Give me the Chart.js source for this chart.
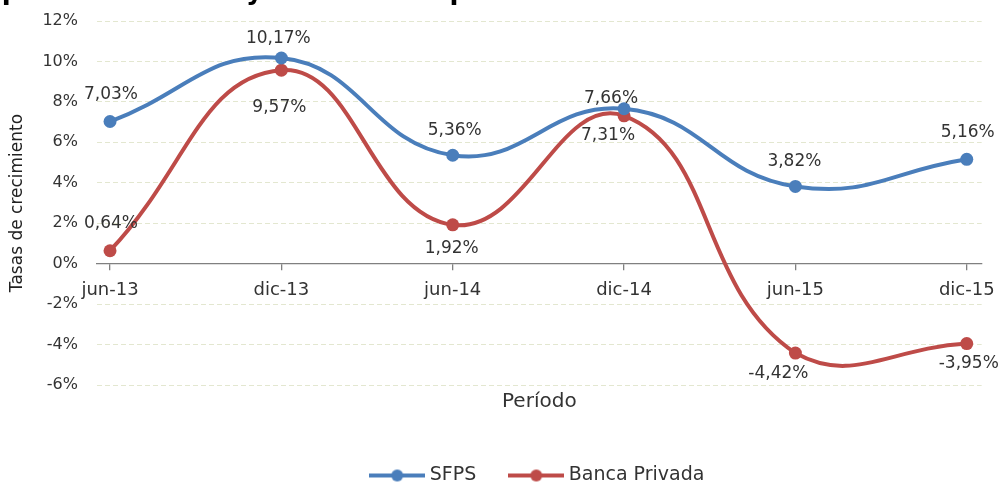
<!DOCTYPE html>
<html>
<head>
<meta charset="utf-8">
<script src="https://cdn.jsdelivr.net/npm/chart.js@4/dist/chart.umd.min.js"></script>
<style>
html, body { margin: 0; padding: 0; background: #fff; }
#caja { width: 1005px; height: 485px; }
</style>
</head>
<body>
<div id="caja"><canvas id="myChart"></canvas></div>
<script>
// datos
const periodos = ["jun-13", "dic-13", "jun-14", "dic-14", "jun-15", "dic-15"];
const sfps = [7.03, 10.17, 5.36, 7.66, 3.82, 5.16];
const bancaPrivada = [0.64, 9.57, 1.92, 7.31, -4.42, -3.95];
const ticksY = [-6, -4, -2, 0, 2, 4, 6, 8, 10, 12];

const AZUL = "#4A7EBB";
const ROJO = "#BE4B48";
const TEXTO = "#333333";
const FUENTE = '"DejaVu Sans", Verdana, sans-serif';

// desplazamiento de cada etiqueta respecto a su punto (dx, dy)
const despEtiquetas = [
  [[1, -27], [-3, -19], [2, -25], [-13, -10], [-1, -25], [1, -27]],
  [[1, -27], [-2, 37], [-1, 24], [-16, 20], [-17, 21], [2, 20]]
];

function formato(v) {
  return v.toFixed(2).replace(".", ",") + "%";
}

// icono de la leyenda: linea con marcador
function iconoLinea(color) {
  const c = document.createElement("canvas");
  c.width = 56; c.height = 14;
  const g = c.getContext("2d");
  g.strokeStyle = color;
  g.lineWidth = 4;
  g.beginPath(); g.moveTo(0, 7); g.lineTo(56, 7); g.stroke();
  g.fillStyle = color;
  g.beginPath(); g.arc(28, 7, 6, 0, Math.PI * 2); g.fill();
  return c;
}
const iconos = [iconoLinea(AZUL), iconoLinea(ROJO)];

const etiquetas = {
  id: "etiquetas",
  afterDatasetsDraw(chart) {
    const ctx = chart.ctx;
    ctx.save();
    ctx.font = "17px " + FUENTE;
    ctx.fillStyle = TEXTO;
    ctx.textAlign = "center";
    ctx.textBaseline = "middle";
    chart.data.datasets.forEach((ds, d) => {
      chart.getDatasetMeta(d).data.forEach((p, i) => {
        const [dx, dy] = despEtiquetas[d][i];
        ctx.fillText(formato(ds.data[i].y), p.x + dx, p.y + dy);
      });
    });
    ctx.restore();
  }
};

// titulo superior, cortado en el borde de la imagen
const tituloCortado = {
  id: "tituloCortado",
  afterDraw(chart) {
    const ctx = chart.ctx;
    ctx.save();
    ctx.font = "bold 26px " + FUENTE;
    ctx.fillStyle = "#000";
    ctx.textBaseline = "alphabetic";
    const pre = "Crecimiento de los depósitos de SFPS ";
    const x0 = 246 - ctx.measureText(pre).width;
    ctx.fillText(pre + "y de la banca privada", x0, -1);
    ctx.restore();
  }
};

new Chart("myChart", {
  type: "line",
  data: {
    datasets: [{
      label: "SFPS",
      data: sfps.map((v, i) => ({ x: i, y: v })),
      borderColor: AZUL,
      backgroundColor: AZUL,
      borderWidth: 4,
      pointRadius: 6.5,
      pointBorderWidth: 0,
      tension: 0.45
    }, {
      label: "Banca Privada",
      data: bancaPrivada.map((v, i) => ({ x: i, y: v })),
      borderColor: ROJO,
      backgroundColor: ROJO,
      borderWidth: 4,
      pointRadius: 6.5,
      pointBorderWidth: 0,
      tension: 0.45
    }]
  },
  options: {
    responsive: true,
    maintainAspectRatio: false,
    animation: false,
    layout: { padding: { top: 21, right: 22, left: 0, bottom: -10 } },
    scales: {
      x: {
        type: "linear",
        axis: "x",
        position: { y: 0 },
        min: -0.076,
        max: 5.087,
        afterBuildTicks: s => { s.ticks = periodos.map((p, i) => ({ value: i })); },
        ticks: {
          callback: v => periodos[v],
          font: { family: FUENTE, size: 18 },
          color: TEXTO,
          padding: 10,
          autoSkip: false,
          maxRotation: 0
        },
        grid: { drawOnChartArea: false, drawTicks: true, tickLength: 6, color: "#808080", lineWidth: 1.3 },
        border: { color: "#808080", width: 1.3 }
      },
      y: {
        min: -6,
        max: 12,
        afterBuildTicks: s => { s.ticks = ticksY.map(v => ({ value: v })); },
        afterFit: s => { s.width = 97; },
        ticks: {
          callback: v => v + "%",
          font: { family: FUENTE, size: 16 },
          color: TEXTO,
          padding: 3
        },
        grid: { color: "#e3e7d0", lineWidth: 1, drawTicks: true, tickLength: 16, tickColor: "rgba(0,0,0,0)" },
        border: { display: false, dash: [5, 3] },
        title: {
          display: true,
          text: "Tasas de crecimiento",
          font: { family: FUENTE, size: 17 },
          color: "#222",
          padding: { top: 7, bottom: 0 }
        }
      }
    },
    plugins: {
      title: {
        display: true,
        text: "Período",
        position: "bottom",
        weight: 500,
        fullSize: false,
        font: { family: FUENTE, size: 20, weight: "normal" },
        color: TEXTO,
        padding: { top: 5, bottom: 15 }
      },
      legend: {
        position: "bottom",
        weight: 1000,
        fullSize: false,
        labels: {
          usePointStyle: true,
          pointStyleWidth: 46,
          padding: 37,
          font: { family: FUENTE, size: 19 },
          color: TEXTO,
          generateLabels: chart => chart.data.datasets.map((ds, i) => ({
            text: ds.label,
            pointStyle: iconos[i],
            fillStyle: ds.borderColor,
            strokeStyle: ds.borderColor,
            lineWidth: 0,
            fontColor: TEXTO,
            hidden: false,
            datasetIndex: i
          }))
        }
      },
      tooltip: { enabled: false }
    }
  },
  plugins: [etiquetas, tituloCortado]
});
</script>
</body>
</html>
